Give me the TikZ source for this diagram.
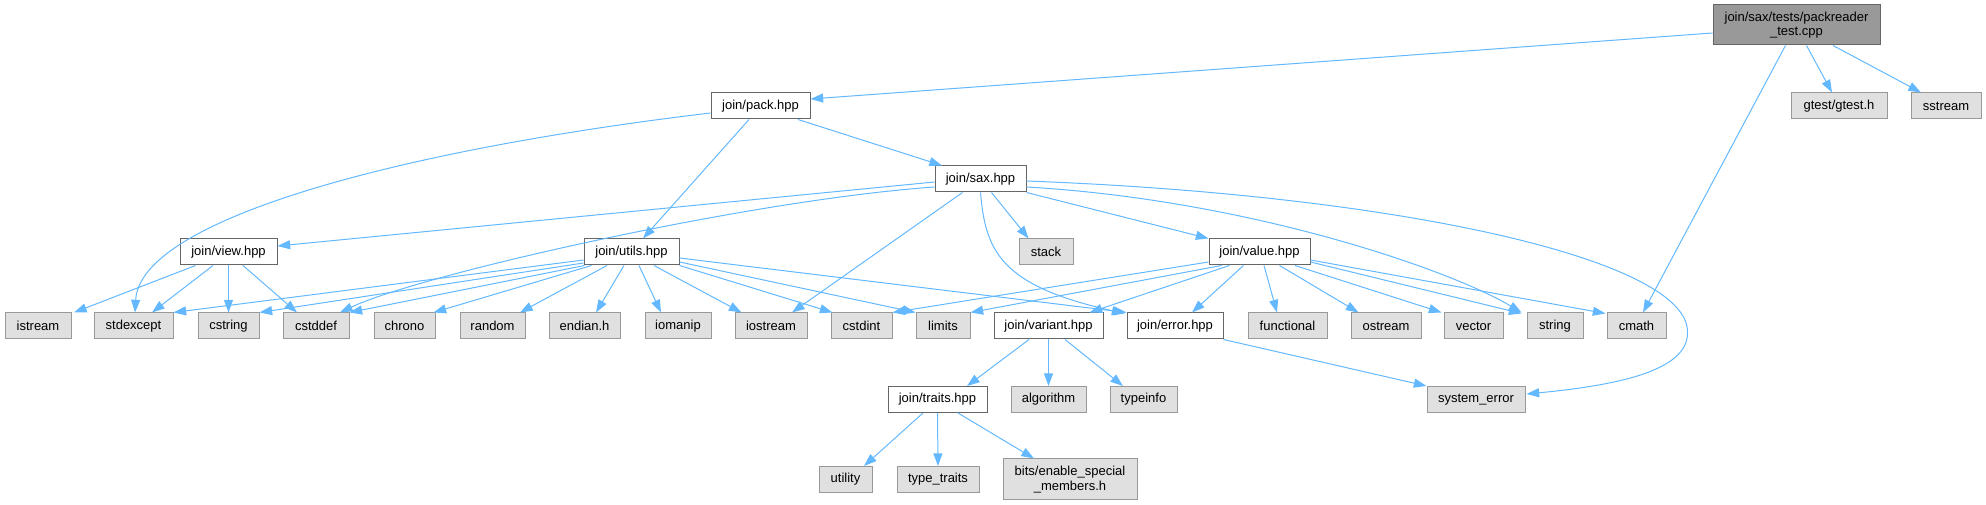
\documentclass[tikz,border=0pt]{standalone}
\usepackage{fontspec}
\setmainfont{Liberation Sans}
\usetikzlibrary{calc,arrows.meta}
\definecolor{edgec}{RGB}{99,184,255}
\definecolor{gnine}{HTML}{999999}
\definecolor{gsix}{HTML}{666666}
\definecolor{gext}{HTML}{E0E0E0}
\begin{document}
\begin{tikzpicture}[x=0.75pt,y=-0.75pt,
  base/.style={draw, line width=0.75pt, inner sep=0pt, minimum height=19.5pt,
    font=\fontsize{9.75}{11}\selectfont, align=center},
  ext/.style={base, draw=gnine, fill=gext},
  int/.style={base, draw=gsix, fill=white},
  root/.style={base, draw=gsix, fill=gnine},
  bw/.style={minimum width=#1*0.75pt},
  edge/.style={draw=edgec, line width=0.75pt, -{Triangle[length=9.5pt,width=6.75pt]}}
]
\useasboundingbox (0,0) rectangle (1986,505);
% rank 0
\node[root,bw=167,minimum height=30pt] (test) at (1796.5,25) {join/sax/tests/packreader\\\_test.cpp};
% rank 1
\node[int,bw=99] (pack) at (760.5,106) {join/pack.hpp};
\node[ext,bw=96] (gtest) at (1839,106) {gtest/gtest.h};
\node[ext,bw=70] (sstream) at (1946,106) {sstream};
% rank 2
\node[int,bw=91] (sax) at (980.5,179) {join/sax.hpp};
% rank 3
\node[int,bw=97] (view) at (228.5,252) {join/view.hpp};
\node[int,bw=95] (utils) at (631.5,252) {join/utils.hpp};
\node[ext,bw=54] (stack) at (1046,252) {stack};
\node[int,bw=101] (value) at (1259.5,252) {join/value.hpp};
% rank 4
\node[ext,bw=66] (istream) at (38,326) {istream};
\node[ext,bw=79] (stdexcept) at (133.5,326) {stdexcept};
\node[ext,bw=61] (cstring) at (228.5,326) {cstring};
\node[ext,bw=66] (cstddef) at (316,326) {cstddef};
\node[ext,bw=61] (chrono) at (404.5,326) {chrono};
\node[ext,bw=65] (random) at (492.5,326) {random};
\node[ext,bw=71] (endian) at (584.5,326) {endian.h};
\node[ext,bw=66] (iomanip) at (678,326) {iomanip};
\node[ext,bw=72] (iostream) at (771,326) {iostream};
\node[ext,bw=61] (cstdint) at (861.5,326) {cstdint};
\node[ext,bw=54] (limits) at (943,326) {limits};
\node[int,bw=109] (variant) at (1048.5,326) {join/variant.hpp};
\node[int,bw=96] (error) at (1175,326) {join/error.hpp};
\node[ext,bw=79] (functional) at (1287.5,326) {functional};
\node[ext,bw=70] (ostream) at (1386,326) {ostream};
\node[ext,bw=59] (vector) at (1473.5,326) {vector};
\node[ext,bw=56] (string) at (1555,326) {string};
\node[ext,bw=59] (cmath) at (1636.5,326) {cmath};
% rank 5
\node[int,bw=99] (traits) at (937.5,399.5) {join/traits.hpp};
\node[ext,bw=75] (algorithm) at (1048.5,399.5) {algorithm};
\node[ext,bw=67] (typeinfo) at (1143.5,399.5) {typeinfo};
\node[ext,bw=98] (syserr) at (1476,399.5) {system\_error};
% rank 6
\node[ext,bw=53] (utility) at (845.5,479.5) {utility};
\node[ext,bw=82] (typetraits) at (938,479.5) {type\_traits};
\node[ext,bw=134,minimum height=30.75pt] (bits) at (1070,479.5) {bits/enable\_special\\\_members.h};

% edges from test
\draw[edge] ($(test.west)+(0,8)$) -- ($(pack.east)+(0,-7)$);
\draw[edge] ($(test.south)+(10,0)$) -- ($(gtest.north)+(-7,0)$);
\draw[edge] ($(test.south)+(36.5,0)$) -- ($(sstream.north)+(-25,0)$);
\draw[edge] ($(test.south)+(-11,0)$) -- ($(cmath.north)+(6.5,0)$);
% pack
\draw[edge] ($(pack.west)+(0,7)$) .. controls +(-311,37) and +(5,-93) .. ($(stdexcept.north)+(1.5,0)$);
\draw[edge] ($(pack.south)+(-11.5,0)$) -- ($(utils.north)+(11.5,0)$);
\draw[edge] ($(pack.south)+(37.5,0)$) -- ($(sax.north)+(-38.5,0)$);
% sax
\draw[edge] ($(sax.west)+(0,3)$) -- ($(view.east)+(0,-6)$);
\draw[edge] ($(sax.west)+(0,8)$) .. controls +(-185,13) and +(80,-38) .. ($(cstddef.north)+(24,0)$);
\draw[edge] ($(sax.south)+(-18,0)$) -- ($(iostream.north)+(21,0)$);
\draw[edge] (sax.south) .. controls +(5,58) and +(-125,-28) .. ($(error.north west)+(-2,1)$);
\draw[edge] ($(sax.south)+(11,0)$) -- ($(stack.north)+(-17.4,0)$);
\draw[edge] (sax.south east) -- (value.north west);
\draw[edge] ($(sax.east)+(0,8)$) .. controls +(224,13) and +(-70,-42) .. ($(string.north west)+(-5,0)$);
\draw[edge] ($(sax.east)+(0,2)$) .. controls +(374,14) and +(3,-73) .. ($(syserr.east)+(162,-66.5)$)
   .. controls +(0,37) and +(94,-9) .. ($(syserr.east)+(1,-5.5)$);
% view
\draw[edge] ($(view.south)+(-33,0)$) -- ($(istream.north)+(36,0)$);
\draw[edge] ($(view.south)+(-15.5,0)$) -- ($(stdexcept.north)+(18.5,0)$);
\draw[edge] (view.south) -- (cstring.north);
\draw[edge] ($(view.south)+(14.5,0)$) -- ($(cstddef.north)+(-19,0)$);
% utils
\draw[edge] ($(utils.west)+(0,8)$) -- (stdexcept.north east);
\draw[edge] ($(utils.west)+(0,11)$) -- (cstring.north east);
\draw[edge] ($(utils.south west)+(1,0)$) -- (cstddef.north east);
\draw[edge] ($(utils.south)+(-40,0)$) -- ($(chrono.north east)+(-2,0)$);
\draw[edge] ($(utils.south)+(-24.5,0)$) -- ($(random.north)+(27.5,0)$);
\draw[edge] ($(utils.south)+(-7.5,0)$) -- ($(endian.north)+(11.5,0)$);
\draw[edge] ($(utils.south)+(7.5,0)$) -- ($(iomanip.north)+(-17,0)$);
\draw[edge] ($(utils.south)+(22.5,0)$) -- ($(iostream.north)+(-29.5,0)$);
\draw[edge] (utils.south east) -- ($(cstdint.north west)+(2,0)$);
\draw[edge] ($(utils.east)+(0,10)$) -- (limits.north west);
\draw[edge] ($(utils.east)+(0,6)$) -- (error.north west);
% value
\draw[edge] ($(value.west)+(0,10)$) -- (cstdint.north east);
\draw[edge] ($(value.south)+(-38,0)$) -- (limits.north east);
\draw[edge] ($(value.south)+(-30,0)$) -- ($(variant.north)+(41,0)$);
\draw[edge] ($(value.south)+(-16,0)$) -- ($(error.north)+(17,0)$);
\draw[edge] ($(value.south)+(4.5,0)$) -- ($(functional.north)+(-10.5,0)$);
\draw[edge] ($(value.south)+(20,0)$) -- ($(ostream.north west)+(8,0)$);
\draw[edge] ($(value.south)+(35.5,0)$) -- ($(vector.north west)+(-2,0)$);
\draw[edge] ($(value.east)+(0,10)$) -- ($(string.north west)+(-5,1)$);
\draw[edge] ($(value.east)+(0,8)$) -- ($(cmath.north west)+(-1,1)$);
% variant, error, traits
\draw[edge] ($(variant.south)+(-19.5,0)$) -- ($(traits.north)+(29.5,0)$);
\draw[edge] (variant.south) -- (algorithm.north);
\draw[edge] ($(variant.south)+(16.5,0)$) -- ($(typeinfo.north)+(-20.5,0)$);
\draw[edge] (error.south east) -- (syserr.north west);
\draw[edge] ($(traits.south)+(-14.5,0)$) -- ($(utility.north)+(18.5,0)$);
\draw[edge] (traits.south) -- (typetraits.north);
\draw[edge] ($(traits.south)+(20.5,0)$) -- ($(bits.north)+(-36,0)$);
\end{tikzpicture}
\end{document}
